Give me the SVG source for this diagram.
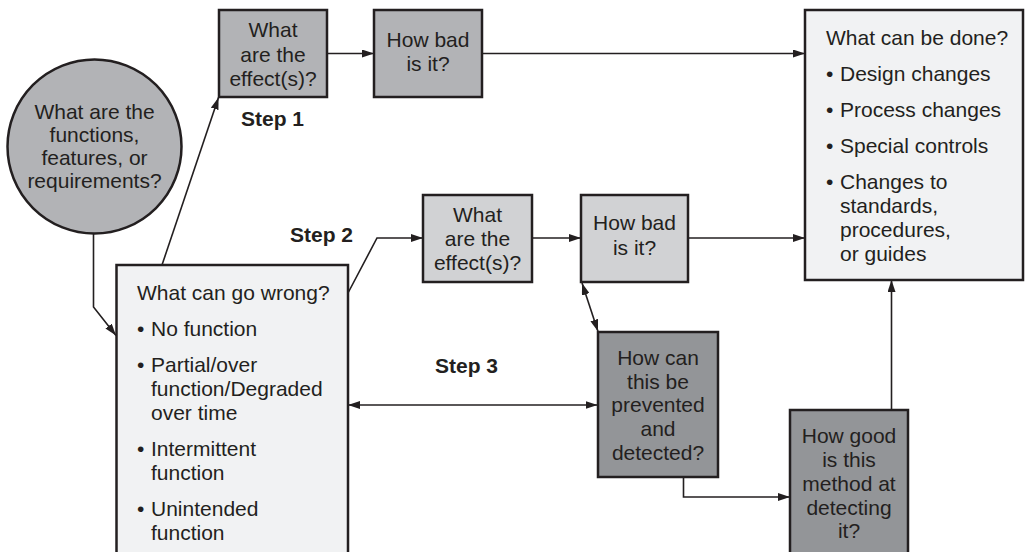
<svg xmlns="http://www.w3.org/2000/svg" width="1025" height="552" viewBox="0 0 1025 552">
  <defs>
    <marker id="ah" viewBox="0 0 12 8" refX="12" refY="4" markerWidth="12" markerHeight="8" markerUnits="userSpaceOnUse" orient="auto-start-reverse">
      <path d="M0,0 L12,4 L0,8 Z" fill="#231f20"/>
    </marker>
    <style>
      .box { stroke: #231f20; stroke-width: 2.5; }
      .mid { fill: #b2b3b6; }
      .light { fill: #d1d2d4; }
      .dark { fill: #939598; }
      .pale { fill: #f1f2f3; }
      text { font-family: "Liberation Sans", Arial, sans-serif; font-size: 21px; fill: #231f20; }
      .c { text-anchor: middle; }
      .step { font-weight: bold; }
      .conn { fill: none; stroke: #231f20; stroke-width: 1.6; }
    </style>
  </defs>
  <rect width="1025" height="552" fill="#ffffff"/>

  <!-- connectors -->
  <g id="connectors">
    <polyline class="conn" points="93.5,233 93.5,307 116,335.5" marker-end="url(#ah)"/>
    <line class="conn" x1="162" y1="265" x2="218.5" y2="97.5" marker-end="url(#ah)"/>
    <line class="conn" x1="327" y1="53.5" x2="374" y2="53.5" marker-end="url(#ah)"/>
    <line class="conn" x1="482" y1="53.5" x2="805" y2="53.5" marker-end="url(#ah)"/>
    <polyline class="conn" points="348,293 377,238 423,238" marker-end="url(#ah)"/>
    <line class="conn" x1="532" y1="238" x2="581" y2="238" marker-end="url(#ah)"/>
    <line class="conn" x1="688" y1="238" x2="805" y2="238" marker-end="url(#ah)"/>
    <line class="conn" x1="582" y1="283" x2="598" y2="331.5" marker-start="url(#ah)" marker-end="url(#ah)"/>
    <line class="conn" x1="348" y1="405" x2="597.5" y2="405" marker-start="url(#ah)" marker-end="url(#ah)"/>
    <polyline class="conn" points="683.5,477 683.5,497 790,497" marker-end="url(#ah)"/>
    <line class="conn" x1="891.5" y1="410" x2="891.5" y2="280" marker-end="url(#ah)"/>
  </g>

  <!-- starting question -->
  <g id="functions">
    <circle class="box mid" cx="94.5" cy="146.5" r="87"/>
    <text class="c" x="94.5" y="119">What are the</text>
    <text class="c" x="94.5" y="142">functions,</text>
    <text class="c" x="94.5" y="165">features, or</text>
    <text class="c" x="94.5" y="188">requirements?</text>
  </g>

  <g id="effects1">
    <rect class="box mid" x="219" y="10" width="108" height="87"/>
    <text class="c" x="273" y="37">What</text>
    <text class="c" x="273" y="61.5">are the</text>
    <text class="c" x="273" y="86">effect(s)?</text>
  </g>

  <g id="severity1">
    <rect class="box mid" x="374" y="10" width="108" height="87"/>
    <text class="c" x="428" y="47">How bad</text>
    <text class="c" x="428" y="71">is it?</text>
  </g>

  <g id="actions">
    <rect class="box pale" x="805" y="10" width="218" height="270"/>
    <text x="826" y="45">What can be done?</text>
    <text x="826" y="81">•</text><text x="840" y="81">Design changes</text>
    <text x="826" y="117">•</text><text x="840" y="117">Process changes</text>
    <text x="826" y="153">•</text><text x="840" y="153">Special controls</text>
    <text x="826" y="189">•</text><text x="840" y="189">Changes to</text>
    <text x="840" y="213">standards,</text>
    <text x="840" y="237">procedures,</text>
    <text x="840" y="261">or guides</text>
  </g>

  <g id="failures">
    <rect class="box pale" x="116.5" y="265" width="231.5" height="300"/>
    <text x="137" y="300">What can go wrong?</text>
    <text x="137" y="336">•</text><text x="151" y="336">No function</text>
    <text x="137" y="372">•</text><text x="151" y="372">Partial/over</text>
    <text x="151" y="396">function/Degraded</text>
    <text x="151" y="420">over time</text>
    <text x="137" y="456">•</text><text x="151" y="456">Intermittent</text>
    <text x="151" y="480">function</text>
    <text x="137" y="516">•</text><text x="151" y="516">Unintended</text>
    <text x="151" y="540">function</text>
  </g>

  <g id="effects2">
    <rect class="box light" x="423" y="195" width="109" height="87"/>
    <text class="c" x="477.5" y="222">What</text>
    <text class="c" x="477.5" y="246">are the</text>
    <text class="c" x="477.5" y="270">effect(s)?</text>
  </g>

  <g id="severity2">
    <rect class="box light" x="581" y="195" width="107" height="87"/>
    <text class="c" x="634.5" y="230">How bad</text>
    <text class="c" x="634.5" y="255">is it?</text>
  </g>

  <g id="prevention">
    <rect class="box dark" x="598" y="332" width="120" height="145"/>
    <text class="c" x="658" y="365">How can</text>
    <text class="c" x="658" y="389">this be</text>
    <text class="c" x="658" y="412">prevented</text>
    <text class="c" x="658" y="436">and</text>
    <text class="c" x="658" y="460">detected?</text>
  </g>

  <g id="detection">
    <rect class="box dark" x="790" y="410" width="118" height="160"/>
    <text class="c" x="849" y="443">How good</text>
    <text class="c" x="849" y="467">is this</text>
    <text class="c" x="849" y="491">method at</text>
    <text class="c" x="849" y="515">detecting</text>
    <text class="c" x="849" y="538">it?</text>
  </g>

  <g id="steps">
    <text class="step" x="241" y="126">Step 1</text>
    <text class="step" x="290" y="242">Step 2</text>
    <text class="step" x="435" y="373">Step 3</text>
  </g>
</svg>
